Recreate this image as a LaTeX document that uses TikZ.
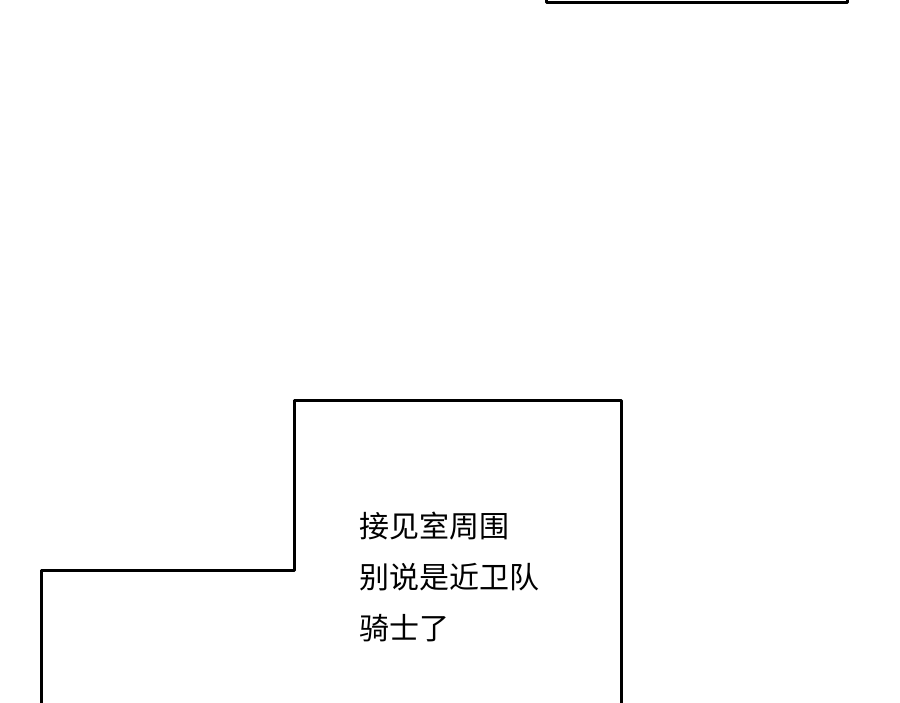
\documentclass[tikz,border=0pt]{standalone}
\usepackage{fontspec}
\newfontfamily\cjk{Noto Sans CJK SC}
\begin{document}
\begin{tikzpicture}[x=1pt,y=-1pt,panel/.style={line width=3pt,line join=round}]
\useasboundingbox[fill=white] (0,0) rectangle (900,702);
\draw[panel] (546,-5) -- (546,2) -- (847,2) -- (847,-5);
\draw[panel] (41,710) -- (41,570) -- (294,570) -- (294,400) -- (621,400) -- (621,710);
\node[anchor=north west,align=left,inner sep=0pt,font=\cjk\fontsize{30}{51}\selectfont] (t) at (359,512) {接见室周围\\别说是近卫队\\骑士了};
\end{tikzpicture}
\end{document}
